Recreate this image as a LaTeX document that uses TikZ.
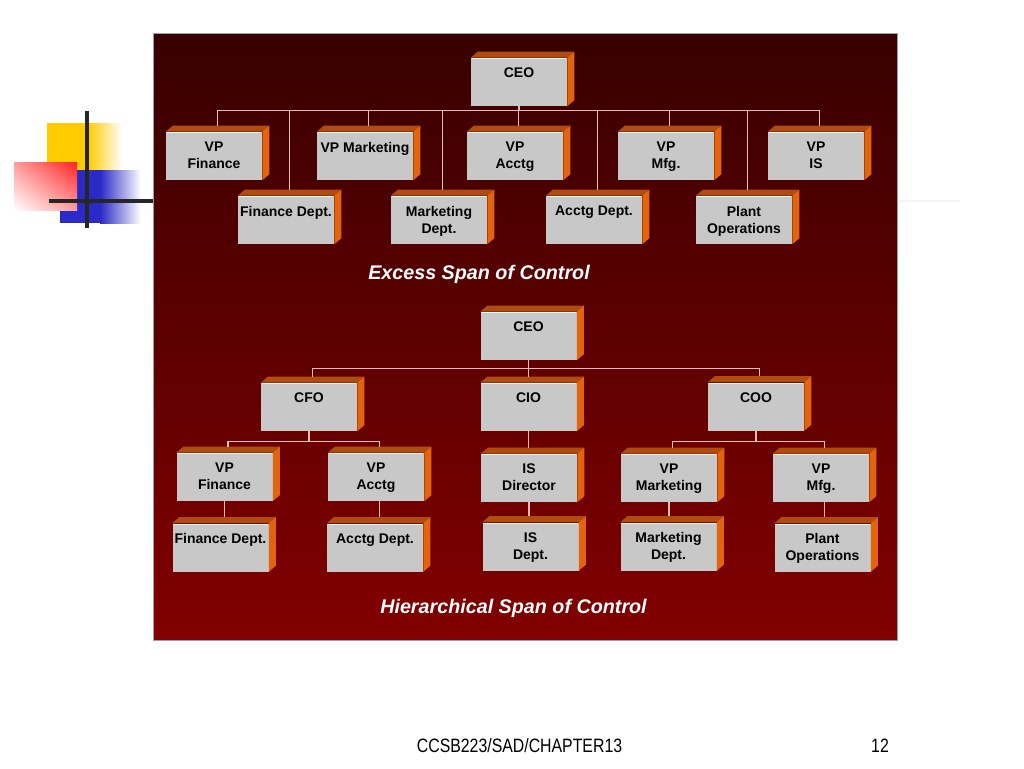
\documentclass[tikz,border=0pt]{standalone}
\usepackage{fontspec}
\setmainfont{Liberation Sans}
\newfontfamily\footfont[FakeStretch=0.82]{Liberation Sans}
\usetikzlibrary{calc,shadings}
\definecolor{panTop}{HTML}{380000}
\definecolor{panBot}{HTML}{820000}
\definecolor{boxgrey}{HTML}{C8C8C8}
\definecolor{topor}{HTML}{B04C10}
\definecolor{sideor}{HTML}{E2640C}
\definecolor{conncol}{HTML}{E2BDBD}
\definecolor{gold}{HTML}{FFCC00}
\definecolor{decoblue}{HTML}{2A2AC8}
\definecolor{decored}{HTML}{FF2222}
\newcommand\bt[1]{\parbox[c][36pt][t]{72pt}{\centering\vspace*{7.5pt}#1}}
\tikzset{
  obox/.style={fill=boxgrey, minimum width=72pt, minimum height=36pt, inner sep=0pt,
    font=\fontsize{10.5}{12.75}\selectfont\bfseries},
  conn/.style={draw=conncol, line width=1pt},
  ttl/.style={text=white, anchor=base, font=\fontsize{14.8}{17}\selectfont\bfseries\itshape},
  foot/.style={anchor=base, text=black, font=\footfont\fontsize{14.5}{16}\selectfont},
  decoline/.style={draw=black!85, line width=3pt},
}
\begin{document}
\begin{tikzpicture}[x=0.75pt,y=-0.75pt]
\useasboundingbox (0,0) rectangle (1024,768);
\fill[white] (0,0) rectangle (1024,768);

% decoration
\fill[gold] (47,123) rectangle (88,170);
\shade[left color=gold, right color=white] (88,123) rectangle (122,170);
\fill[decoblue] (60,170) rectangle (100,223);
\shade[left color=decoblue, right color=white] (100,170) rectangle (141,223);
\shade[upper right=decored, upper left=decored!45, lower right=decored!45, lower left=white] (14,162) rectangle (77,210);
\draw[decoline] (87,111) -- (87,228);
\draw[decoline] (49,201) -- (153,201);
\draw[black!4, line width=2pt] (897,201) -- (960,201);

% panel
\shade[top color=panTop, bottom color=panBot] (153,33) rectangle (897,640);
\draw[gray!75, line width=0.75pt] (153,33) rectangle (897,640);

% ---------- Excess span of control ----------
\node[obox] (ceoA) at (519,82) {\bt{CEO}};
\node[obox] (vpfinA) at (214,156) {\bt{VP\\Finance}};
\node[obox] (vpmktA) at (365,156) {\bt{VP Marketing}};
\node[obox] (vpaccA) at (515,156) {\bt{VP\\Acctg}};
\node[obox] (vpmfgA) at (666,156) {\bt{VP\\Mfg.}};
\node[obox] (vpisA) at (816,156) {\bt{VP\\IS}};
\node[obox] (findeptA) at (286,220) {\bt{Finance Dept.}};
\node[obox] (mktdeptA) at (439,220) {\bt{Marketing\\Dept.}};
\node[obox] (accdeptA) at (594,220) {\bt{Acctg Dept.}};
\node[obox] (plantA) at (744,220) {\bt{Plant\\Operations}};

% ---------- Hierarchical span of control ----------
\node[obox] (ceoB) at (528.5,336) {\bt{CEO}};
\node[obox] (cfoB) at (309,407) {\bt{CFO}};
\node[obox] (cioB) at (528.5,407) {\bt{CIO}};
\node[obox] (cooB) at (756,406.5) {\bt{COO}};
\node[obox] (vpfinB) at (224.5,477) {\bt{VP\\Finance}};
\node[obox] (vpaccB) at (376,477) {\bt{VP\\Acctg}};
\node[obox] (isdirB) at (529,478) {\bt{IS\\Director}};
\node[obox] (vpmktB) at (669,478) {\bt{VP\\Marketing}};
\node[obox] (vpmfgB) at (821,478) {\bt{VP\\Mfg.}};
\node[obox] (findeptB) at (220.5,547.5) {\bt{Finance Dept.}};
\node[obox] (accdeptB) at (375,547.5) {\bt{Acctg Dept.}};
\node[obox] (isdeptB) at (530.5,546.5) {\bt{IS\\Dept.}};
\node[obox] (mktdeptB) at (668.5,546.5) {\bt{Marketing\\Dept.}};
\node[obox] (plantB) at (822.5,547.5) {\bt{Plant\\Operations}};

% 3D faces and top-face anchor coordinates
\foreach \n in {ceoA,vpfinA,vpmktA,vpaccA,vpmfgA,vpisA,findeptA,mktdeptA,accdeptA,plantA,
  ceoB,cfoB,cioB,cooB,vpfinB,vpaccB,isdirB,vpmktB,vpmfgB,findeptB,accdeptB,isdeptB,mktdeptB,plantB}{
  \fill[topor] (\n.north west) -- ($(\n.north west)+(7,-6)$) -- ($(\n.north east)+(7,-6)$) -- (\n.north east) -- cycle;
  \fill[sideor] (\n.north east) -- ($(\n.north east)+(7,-6)$) -- ($(\n.south east)+(7,-6)$) -- (\n.south east) -- cycle;
  \draw[white!90!boxgrey, line width=0.6pt] ($(\n.north west)+(1,1)$) -- ($(\n.north east)+(-1,1)$);
  \coordinate (\n-t) at ($(\n.north)+(3.5,-6)$);
}

% connectors, top chart
\coordinate (busA) at ($(ceoA.south)+(0,4)$);
\draw[conn] (ceoA.south) -- (busA);
\foreach \c in {vpfinA,findeptA,vpmktA,mktdeptA,vpaccA,accdeptA,vpmfgA,plantA,vpisA}
  \draw[conn] (\c-t) |- (busA);

% connectors, bottom chart
\coordinate (busB) at ($(ceoB.south)+(0,8)$);
\draw[conn] (ceoB.south) -- (busB);
\foreach \c in {cfoB,cooB}
  \draw[conn] (\c-t) |- (busB);
\draw[conn] (busB) -- (cioB-t -| busB);
\coordinate (busC) at ($(cfoB.south)+(0,10)$);
\draw[conn] (cfoB.south) -- (busC);
\foreach \c in {vpfinB,vpaccB}
  \draw[conn] (\c-t) |- (busC);
\coordinate (busD) at ($(cooB.south)+(0,10.5)$);
\draw[conn] (cooB.south) -- (busD);
\foreach \c in {vpmktB,vpmfgB}
  \draw[conn] (\c-t) |- (busD);
\draw[conn] (vpfinB.south) -- (vpfinB.south |- findeptB-t);
\draw[conn] (vpaccB-t |- vpaccB.south) -- (vpaccB-t |- accdeptB-t);
\draw[conn] (cioB.south) -- (cioB.south |- isdirB-t);
\draw[conn] (isdirB.south) -- (isdirB.south |- isdeptB-t);
\draw[conn] (vpmktB.south) -- (vpmktB.south |- mktdeptB-t);
\draw[conn] (vpmfgB-t |- vpmfgB.south) -- (vpmfgB-t |- plantB-t);

% titles
\node[ttl] (t1) at (479,279) {Excess Span of Control};
\node[ttl] (t2) at (513.5,613) {Hierarchical Span of Control};

% footer
\node[foot] (ft) at (519.5,752) {CCSB223/SAD/CHAPTER13};
\node[foot] (pg) at (880,752) {12};
\end{tikzpicture}
\end{document}
